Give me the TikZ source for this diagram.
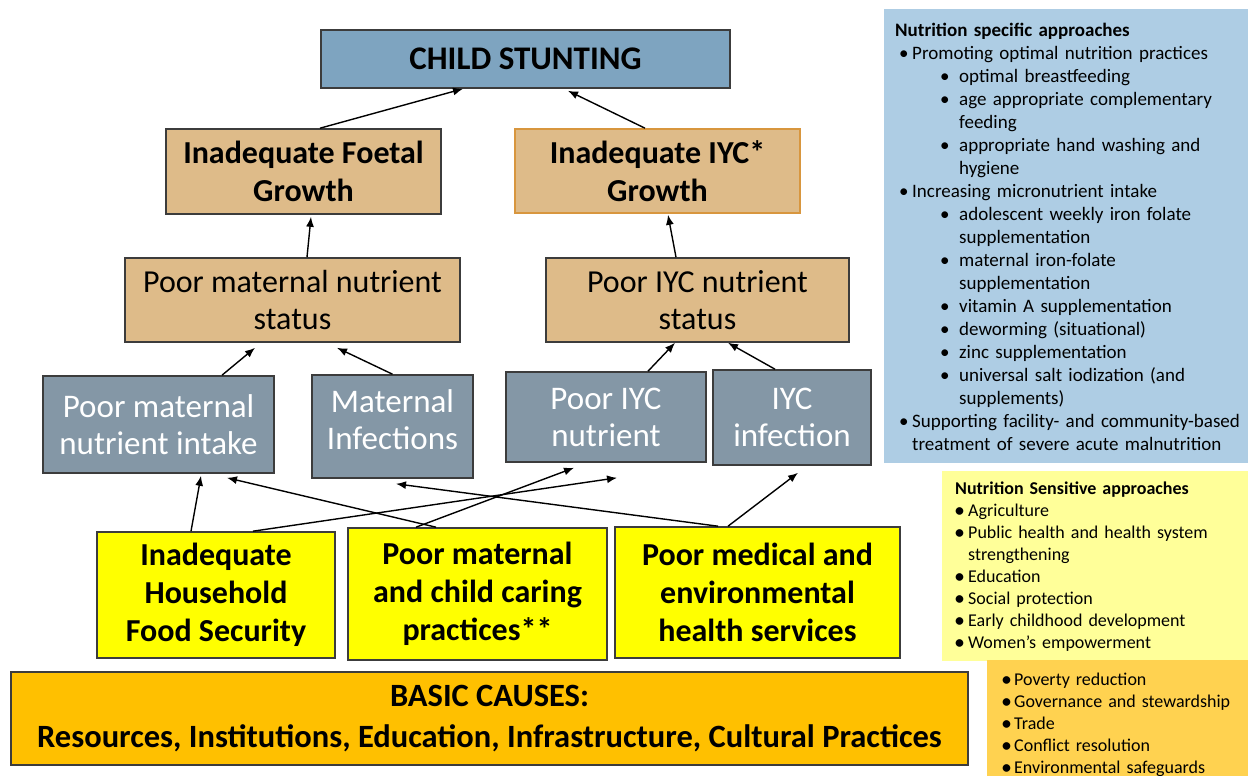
\documentclass[tikz,border=0pt]{standalone}
\usepackage{fontspec}
\setmainfont{Carlito}
\usetikzlibrary{arrows.meta}

\definecolor{stuntblue}{RGB}{126,164,192}
\definecolor{boxtan}{RGB}{222,187,137}
\definecolor{slate}{RGB}{132,151,166}
\definecolor{causeyellow}{RGB}{255,255,0}
\definecolor{basicorange}{RGB}{255,192,0}
\definecolor{panelblue}{RGB}{174,205,228}
\definecolor{panelyellow}{RGB}{255,255,153}
\definecolor{panelorange}{RGB}{255,210,80}
\definecolor{edge}{RGB}{60,60,60}
\definecolor{tanedge}{RGB}{216,150,62}

% bullet lines for the side panels
\newcommand{\bulA}[1]{\par\hangindent=17pt\hangafter=1\noindent\hspace*{4pt}\makebox[13pt][l]{•}#1}
\newcommand{\bulB}[1]{\par\hangindent=64pt\hangafter=1\noindent\hspace*{45pt}\makebox[19pt][l]{•}#1}
\newcommand{\bulC}[1]{\par\hangindent=13pt\hangafter=1\noindent\makebox[13pt][l]{\textbf{•}}#1}
\newcommand{\bulD}[1]{\par\hangindent=12pt\hangafter=1\noindent\makebox[12pt][l]{\textbf{•}}#1}

\begin{document}
\begin{tikzpicture}[x=1pt,y=-1pt,
    box/.style={draw=edge,line width=1.6pt,align=center,inner sep=0pt},
    topbox/.style={box,fill=stuntblue,font=\fontsize{33}{38}\selectfont\bfseries},
    growbox/.style={box,fill=boxtan,font=\fontsize{32}{38}\selectfont\bfseries},
    statbox/.style={box,fill=boxtan,font=\fontsize{32}{37}\selectfont},
    slatebox/.style={box,fill=slate,text=white,font=\fontsize{33}{37}\selectfont},
    causebox/.style={box,fill=causeyellow,font=\fontsize{32}{38}\selectfont\bfseries},
    conn/.style={line width=1.4pt,-{Latex[length=10pt,width=8pt]}}]
  \fill[white] (0,0) rectangle (1248,776);
  \useasboundingbox (0,0) rectangle (1248,776);

  % side panels
  \fill[panelblue] (884,9) rectangle (1248,463);
  \fill[panelyellow] (942,471) rectangle (1248,661);
  \fill[panelorange] (987,660) rectangle (1248,776);

  \node[anchor=north west,inner sep=0pt,text width=350pt,align=left,
        font=\fontsize{19}{23}\selectfont] (specific) at (895,23) {%
    \textbf{Nutrition specific approaches}
    \bulA{Promoting optimal nutrition practices}
    \bulB{optimal breastfeeding}
    \bulB{age appropriate complementary\newline feeding}
    \bulB{appropriate hand washing and\newline hygiene}
    \bulA{Increasing micronutrient intake}
    \bulB{adolescent weekly iron folate\newline supplementation}
    \bulB{maternal iron-folate\newline supplementation}
    \bulB{vitamin A supplementation}
    \bulB{deworming (situational)}
    \bulB{zinc supplementation}
    \bulB{universal salt iodization (and\newline supplements)}
    \bulA{Supporting facility- and community-based\newline treatment of severe acute malnutrition}\par};

  \node[anchor=north west,inner sep=0pt,text width=290pt,align=left,
        font=\fontsize{18}{22}\selectfont] (sensitive) at (955,482) {%
    \textbf{Nutrition Sensitive approaches}
    \bulC{Agriculture}
    \bulC{Public health and health system\newline strengthening}
    \bulC{Education}
    \bulC{Social protection}
    \bulC{Early childhood development}
    \bulC{Women’s empowerment}\par};

  \node[anchor=north west,inner sep=0pt,text width=240pt,align=left,
        font=\fontsize{18}{22}\selectfont] (enabling) at (1002,663) {%
    \bulD{Poverty reduction}
    \bulD{Governance and stewardship}
    \bulD{Trade}
    \bulD{Conflict resolution}
    \bulD{Environmental safeguards}\par};

  % causal framework
  \node[topbox,minimum width=409pt,minimum height=58pt] (stunt) at (525.5,59) {CHILD STUNTING};

  \node[growbox,minimum width=275pt,minimum height=85pt] (foetal) at (303.5,171.5) {Inadequate Foetal\\Growth};
  \node[growbox,draw=tanedge,minimum width=285pt,minimum height=84pt] (iycg) at (657.5,171) {Inadequate IYC*\\Growth};

  \node[statbox,minimum width=335pt,minimum height=84pt] (mstat) at (292.5,300) {Poor maternal nutrient\\status};
  \node[statbox,minimum width=303pt,minimum height=84pt] (iycstat) at (697.5,300) {Poor IYC nutrient\\status};

  \node[slatebox,minimum width=231pt,minimum height=97pt] (mintake) at (158.5,424.5) {Poor maternal\\nutrient intake};
  \node[slatebox,minimum width=161pt,minimum height=103pt,text depth=14pt] (minfect) at (392.5,426.5) {Maternal\\Infections};
  \node[slatebox,minimum width=200pt,minimum height=90pt] (iycnut) at (606,417) {Poor IYC\\nutrient};
  \node[slatebox,minimum width=158pt,minimum height=95pt] (iycinf) at (792,417.5) {IYC\\infection};

  \node[causebox,minimum width=238pt,minimum height=126pt] (food) at (216,595) {Inadequate\\Household\\Food Security};
  \node[causebox,minimum width=259pt,minimum height=132pt] (caring) at (477.5,594) {Poor maternal\\and child caring\\practices**};
  \node[causebox,minimum width=285pt,minimum height=131pt] (medical) at (757.5,592.5) {Poor medical and\\environmental\\health services};

  \node[box,fill=basicorange,minimum width=957pt,minimum height=93pt,
        font=\fontsize{32.5}{41}\selectfont\bfseries] (basic) at (489.5,718.5)
        {BASIC CAUSES:\\Resources, Institutions, Education, Infrastructure, Cultural Practices};

  % arrows
  \draw[conn] ([xshift=16.5pt]foetal.north) -- ([xshift=-62.5pt]stunt.south);
  \draw[conn] ([xshift=-12.5pt]iycg.north) -- ([xshift=42.5pt,yshift=-2pt]stunt.south);
  \draw[conn] ([xshift=14.5pt]mstat.north) -- ([xshift=7.5pt,yshift=-2pt]foetal.south);
  \draw[conn] ([xshift=-21.5pt]iycstat.north) -- ([xshift=10.5pt,yshift=-1pt]iycg.south);
  \draw[conn] ([xshift=63.5pt]mintake.north) -- ([xshift=-37.5pt,yshift=-5pt]mstat.south);
  \draw[conn] (minfect.north) -- ([xshift=44.5pt,yshift=-5pt]mstat.south);
  \draw[conn] ([xshift=42pt]iycnut.north) -- ([xshift=-22.5pt]iycstat.south);
  \draw[conn] ([xshift=-17pt]iycinf.north) -- ([xshift=30.5pt]iycstat.south);

  \draw[conn] ([xshift=-25pt]food.north) -- ([xshift=42.5pt,yshift=-2pt]mintake.south);
  \draw[conn] ([xshift=37pt]food.north) -- ([xshift=11pt,yshift=-15pt]iycnut.south);
  \draw[conn] ([xshift=-41.5pt]caring.north) -- ([xshift=68.5pt,yshift=-4pt]mintake.south);
  \draw[conn] ([xshift=-61.5pt]caring.north) -- ([xshift=-32pt,yshift=-5pt]iycnut.south);
  \draw[conn] ([xshift=-39.5pt]medical.north) -- ([xshift=3.5pt,yshift=-5pt]minfect.south);
  \draw[conn] ([xshift=-29.5pt]medical.north) -- ([xshift=6pt,yshift=-7pt]iycinf.south);
\end{tikzpicture}
\end{document}
